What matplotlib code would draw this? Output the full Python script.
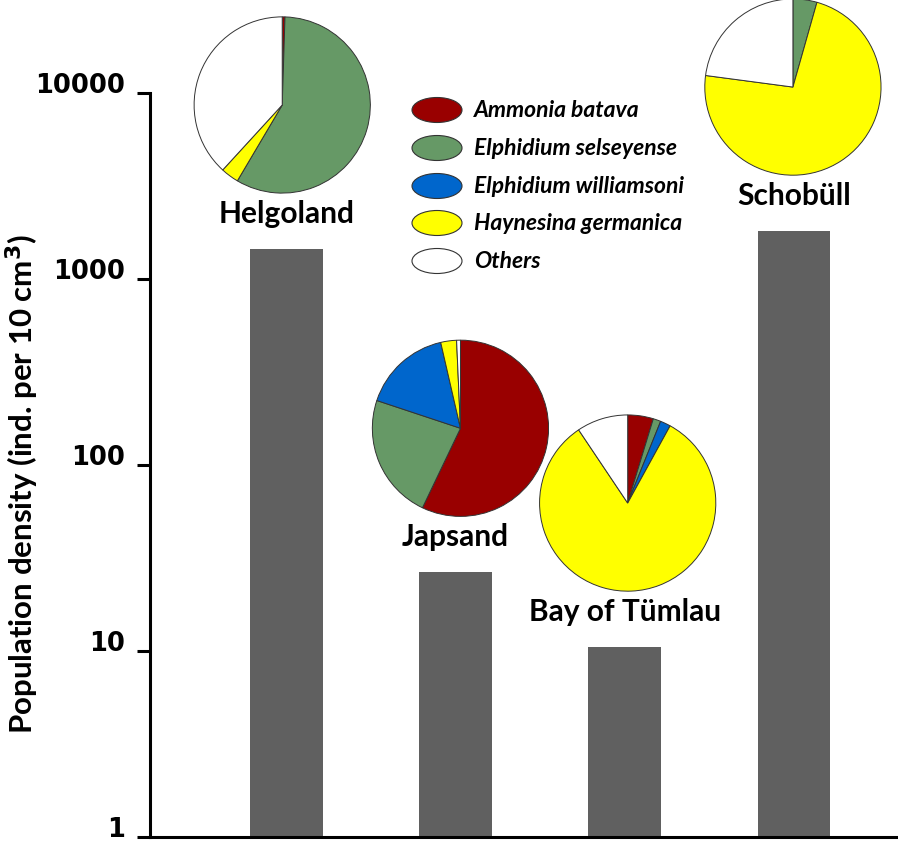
import numpy as np
import matplotlib
matplotlib.use("Agg")
import matplotlib.pyplot as plt
from matplotlib.patches import Ellipse
from matplotlib.ticker import NullLocator

# bar data: population density per site
sites = ["Helgoland", "Japsand", "Bay of Tümlau", "Schobüll"]
density = [1450, 26.5, 10.5, 1810]

# pie data: species composition (%) per site
species = ["Ammonia batava", "Elphidium selseyense", "Elphidium williamsoni",
           "Haynesina germanica", "Others"]
species_colors = ["#990000", "#669966", "#0066cc", "#ffff00", "#ffffff"]
helgoland_pct = [0.5, 58.0, 0.0, 3.3, 38.2]
japsand_pct = [57.1, 23.0, 16.3, 2.9, 0.7]
tumlau_pct = [4.7, 1.4, 1.9, 82.6, 9.4]
schobuell_pct = [0.0, 4.4, 0.0, 72.7, 22.9]
compositions = [helgoland_pct, japsand_pct, tumlau_pct, schobuell_pct]

yticks = [1, 10, 100, 1000, 10000]

W, H = 898, 849
label_font = "Lato"

fig = plt.figure(figsize=(W / 100, H / 100), dpi=100)
ax = fig.add_axes([150 / W, 1 - 837 / H, 1 - 150 / W, (837 - 93) / H])

x = np.arange(len(sites))
ax.bar(x, density, width=0.43, color="#606060", zorder=2)
ax.set_yscale("log")
ax.set_ylim(1, 10000)
ax.set_xlim(-0.805, 3.615)
ax.set_yticks(yticks)
ax.set_yticklabels([str(t) for t in yticks], fontsize=18.5, fontweight="bold")
for lab in ax.get_yticklabels():
    lab.set_verticalalignment("baseline")
ax.yaxis.set_minor_locator(NullLocator())
ax.set_xticks([])
for s in ["top", "right"]:
    ax.spines[s].set_visible(False)
for s in ["left", "bottom"]:
    ax.spines[s].set_linewidth(2.2)
ax.tick_params(axis="y", length=9.4, width=2.2, pad=8.6)

fig.text(22 / W, 1 - 484 / H, "Population density (ind. per 10 cm$^\\mathbf{3}$)",
         rotation=90, ha="center", va="center", fontsize=22.5,
         fontweight="bold", family=label_font)

# site labels above bars
for i, (site, val) in enumerate(zip(sites, density)):
    ax.annotate(site, xy=(i, val), xytext=(0, 26), textcoords="offset pixels",
                ha="center", va="baseline", fontsize=21.5, fontweight="bold",
                family=label_font)

# pies placed above each bar
pie_r = 89
pie_dx = [-4, 5, 3, -1]
pie_dy = 144
for i, (val, pct) in enumerate(zip(density, compositions)):
    px, py = ax.transData.transform((i, val))
    cx, cy = px + pie_dx[i], py + pie_dy
    pax = fig.add_axes([(cx - pie_r) / W, (cy - pie_r) / H, 2 * pie_r / W, 2 * pie_r / H])
    vals = [v for v in pct if v > 0]
    cols = [c for v, c in zip(pct, species_colors) if v > 0]
    pax.pie(vals, colors=cols, startangle=90, counterclock=False,
            wedgeprops=dict(edgecolor="#333333", linewidth=0.7))
    pax.set_xlim(-1.01, 1.01)
    pax.set_ylim(-1.01, 1.01)

# legend drawn as ellipses + text
ov = fig.add_axes([0, 0, 1, 1])
ov.set_xlim(0, W)
ov.set_ylim(H, 0)
ov.axis("off")
leg_y = [110, 148, 186, 223, 261]
for name, col, ly in zip(species, species_colors, leg_y):
    ov.add_patch(Ellipse((437, ly), 50, 25, facecolor=col, edgecolor="#333333", linewidth=0.8))
    ov.text(474, ly, name, ha="left", va="center", fontsize=16.5, fontweight="bold",
            style="italic", family=label_font)

fig.savefig("out.png", dpi=100)
